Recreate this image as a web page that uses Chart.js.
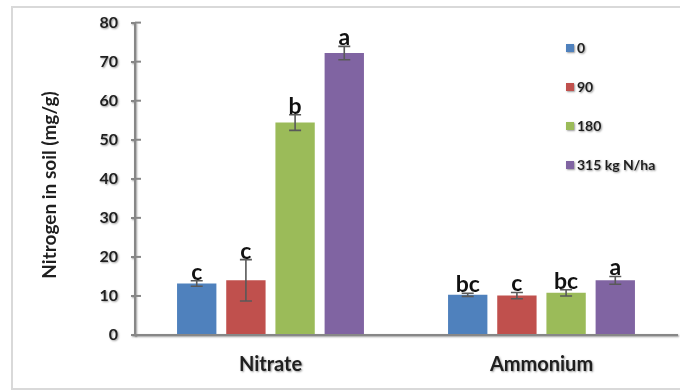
<!DOCTYPE html>
<html lang="en">
  <head>
    <meta charset="UTF-8" />
    <title>Nitrogen in soil</title>
    <script src="https://cdn.jsdelivr.net/npm/chart.js"></script>
    <style>
      html, body { margin: 0; padding: 0; background: #fff; }
      #wrap { width: 680px; height: 392px; position: relative; }
    </style>
  </head>
  <body>
    <div id="wrap"><canvas id="chart" width="680" height="392"></canvas></div>
    <script>
      // data
      const categories = ["Nitrate", "Ammonium"];
      const seriesLabels = ["0", "90", "180", "315 kg N/ha"];
      const values0 = [13.2, 10.3];
      const values90 = [14.0, 10.1];
      const values180 = [54.4, 10.8];
      const values315 = [72.2, 14.0];
      const err0 = [0.7, 0.4];
      const err90 = [5.3, 0.8];
      const err180 = [2.0, 0.8];
      const err315 = [1.7, 1.0];
      const letters0 = ["c", "bc"];
      const letters90 = ["c", "c"];
      const letters180 = ["b", "bc"];
      const letters315 = ["a", "a"];
      const yMin = 0;
      const yMax = 80;
      const yStep = 10;

      const colors = ["#4F81BD", "#C0504D", "#9BBB59", "#8064A2"];
      const allValues = [values0, values90, values180, values315];
      const allErrors = [err0, err90, err180, err315];
      const allLetters = [letters0, letters90, letters180, letters315];

      const FONT = "Lato, 'Open Sans', sans-serif";
      const TEXT = "#1f1f1f";
      const AXIS = "#878787";

      function shadowOn(ctx) {
        ctx.shadowColor = "rgba(0,0,0,0.4)";
        ctx.shadowOffsetX = 1;
        ctx.shadowOffsetY = 1;
        ctx.shadowBlur = 2;
      }

      const decor = {
        id: "decor",
        beforeDraw(chart) {
          const ctx = chart.ctx;
          ctx.save();
          ctx.strokeStyle = "#d9d9d9";
          ctx.lineWidth = 2;
          ctx.strokeRect(12, 7, 680, 382);
          ctx.restore();
          // shadow for tick labels (Excel text effect)
          ctx.save();
          shadowOn(ctx);
        },
        beforeDatasetsDraw(chart) {
          chart.ctx.restore();
          // inner half of the cross tick marks on the y axis
          const ctx = chart.ctx;
          const y = chart.scales.y;
          ctx.save();
          ctx.strokeStyle = AXIS;
          ctx.lineWidth = 2;
          y.ticks.forEach((t, i) => {
            const py = y.getPixelForTick(i);
            ctx.beginPath();
            ctx.moveTo(chart.chartArea.left, py);
            ctx.lineTo(chart.chartArea.left + 6, py);
            ctx.stroke();
          });
          ctx.restore();
        },
        afterDatasetsDraw(chart) {
          const ctx = chart.ctx;
          const y = chart.scales.y;
          ctx.save();
          // error bars and significance letters
          allValues.forEach((vals, di) => {
            const meta = chart.getDatasetMeta(di);
            meta.data.forEach((bar, j) => {
              const top = y.getPixelForValue(vals[j] + allErrors[di][j]);
              const bot = y.getPixelForValue(vals[j] - allErrors[di][j]);
              ctx.strokeStyle = "#595959";
              ctx.lineWidth = 1.6;
              ctx.beginPath();
              ctx.moveTo(bar.x, top);
              ctx.lineTo(bar.x, bot);
              ctx.moveTo(bar.x - 6, top);
              ctx.lineTo(bar.x + 6, top);
              ctx.moveTo(bar.x - 6, bot);
              ctx.lineTo(bar.x + 6, bot);
              ctx.stroke();
              ctx.fillStyle = "#111";
              ctx.font = "bold 23px " + FONT;
              ctx.textAlign = "center";
              ctx.textBaseline = "alphabetic";
              ctx.fillText(allLetters[di][j], bar.x, top - 1);
            });
          });
          // y axis title
          ctx.save();
          ctx.translate(50, 185);
          ctx.rotate(-Math.PI / 2);
          ctx.fillStyle = TEXT;
          ctx.font = "bold 19px " + FONT;
          ctx.textAlign = "center";
          ctx.textBaseline = "middle";
          ctx.fillText("Nitrogen in soil (mg/g)", 0, 0);
          ctx.restore();
          // legend
          shadowOn(ctx);
          seriesLabels.forEach((lab, i) => {
            const cy = 48 + i * 39;
            ctx.fillStyle = colors[i];
            ctx.fillRect(566, cy - 4, 8, 8);
            ctx.fillStyle = TEXT;
            ctx.font = "bold 14px " + FONT;
            ctx.textAlign = "left";
            ctx.textBaseline = "middle";
            ctx.fillText(lab, 577, cy);
          });
          ctx.restore();
        },
      };

      new Chart(document.getElementById("chart"), {
        type: "bar",
        data: {
          labels: categories,
          datasets: seriesLabels.map((lab, i) => ({
            label: lab,
            data: allValues[i],
            backgroundColor: colors[i],
            borderWidth: 0,
            categoryPercentage: 0.726,
            barPercentage: 0.8,
          })),
        },
        options: {
          responsive: false,
          animation: false,
          layout: { padding: { top: 20, right: 3, left: 0, bottom: 0 } },
          plugins: {
            legend: { display: false },
            tooltip: { enabled: false },
          },
          scales: {
            x: {
              grid: { display: false, drawTicks: false, tickLength: 0 },
              border: { display: true, color: AXIS, width: 2 },
              ticks: {
                color: TEXT,
                padding: 18,
                font: { family: FONT, size: 20, weight: "bold" },
              },
              afterFit(s) {
                s.height = 57;
              },
            },
            y: {
              min: yMin,
              max: yMax,
              ticks: {
                stepSize: yStep,
                color: TEXT,
                padding: 13,
                font: { family: FONT, size: 16, weight: "bold" },
              },
              grid: {
                drawOnChartArea: false,
                drawTicks: true,
                tickLength: 4,
                color: AXIS,
                lineWidth: 2,
              },
              border: { display: true, color: AXIS, width: 2 },
              afterFit(s) {
                s.width = 135;
              },
            },
          },
        },
        plugins: [decor],
      });
    </script>
  </body>
</html>
